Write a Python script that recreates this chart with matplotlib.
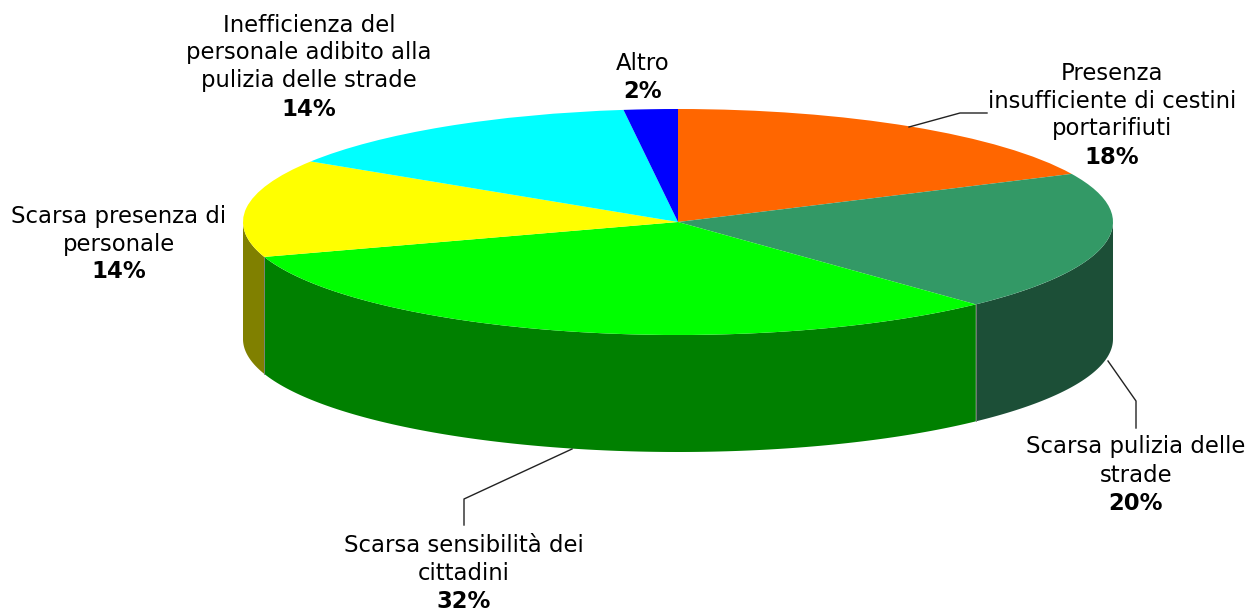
import numpy as np
from matplotlib import pyplot as plt

labels = ['Presenza\ninsufficiente di cestini\nportarifiuti',
          'Scarsa pulizia delle\nstrade',
          'Scarsa sensibilità dei\ncittadini',
          'Scarsa presenza di\npersonale',
          'Inefficienza del\npersonale adibito alla\npulizia delle strade',
          'Altro']
values = [18, 20, 32, 14, 14, 2]
pct_labels = ['18%', '20%', '32%', '14%', '14%', '2%']
top_colors = ['#FF6600', '#339966', '#00FF00', '#FFFF00', '#00FFFF', '#0000FF']
side_colors = ['#803300', '#1C4F37', '#008000', '#808000', '#008080', '#000080']

# geometry of the disc in pixels
cx, cy = 678, 222
rx, ry = 435, 113
depth = 117
W, H = 1250, 610
# where the text block of each slice sits (centre x, y of first line)
label_pos = [(1112, 73), (1136, 447), (464, 545), (119, 216), (309, 25), (643, 63)]
line_h = 28
leaders = [[(909, 127), (960, 113), (987, 113)],
           [(1108, 361), (1136, 401), (1136, 428)],
           [(572, 449), (464, 499), (464, 525)]]

fig = plt.figure(figsize=(W / 100, H / 100), dpi=100)
ax = fig.add_axes([0, 0, 1, 1])
ax.pie(values, colors=top_colors, startangle=90, counterclock=False,
       wedgeprops={'linewidth': 0})
ax.set_aspect('auto')
# unit circle -> ellipse on the canvas
ax.set_xlim(-cx / rx, (W - cx) / rx)
ax.set_ylim((cy - H) / ry, cy / ry)

# side wall, only the front half of the disc shows it
fracs = np.cumsum([0] + values) / sum(values) * 2 * np.pi
d = depth / ry
for i in range(len(values)):
    t0 = max(fracs[i], np.pi / 2)
    t1 = min(fracs[i + 1], 3 * np.pi / 2)
    if t1 <= t0:
        continue
    t = np.linspace(t0, t1, 120)
    xs = np.sin(t)
    ys = np.cos(t)
    ax.fill(np.r_[xs, xs[::-1]], np.r_[ys, ys[::-1] - d],
            color=side_colors[i], lw=0, zorder=0.5)
    if fracs[i] > np.pi / 2:
        ax.plot([xs[0], xs[0]], [ys[0], ys[0] - d], color='#808080', lw=0.6, zorder=0.6)

# overlay in pixel coordinates for text and leader lines
ov = fig.add_axes([0, 0, 1, 1])
ov.set_xlim(0, W)
ov.set_ylim(H, 0)
ov.axis('off')
ov.patch.set_alpha(0)

for pts in leaders:
    ov.plot([p[0] for p in pts], [p[1] for p in pts], color='#222222', lw=1)

for lab, pct, (x, y) in zip(labels, pct_labels, label_pos):
    lines = lab.split('\n')
    for k, ln in enumerate(lines):
        ov.text(x, y + k * line_h, ln, ha='center', va='center',
                fontsize=16.4, family='DejaVu Sans', color='black')
    ov.text(x, y + len(lines) * line_h, pct, ha='center', va='center',
            fontsize=16.4, family='DejaVu Sans', fontweight='bold', color='black')

fig.savefig('out.png', dpi=100, facecolor='white')
